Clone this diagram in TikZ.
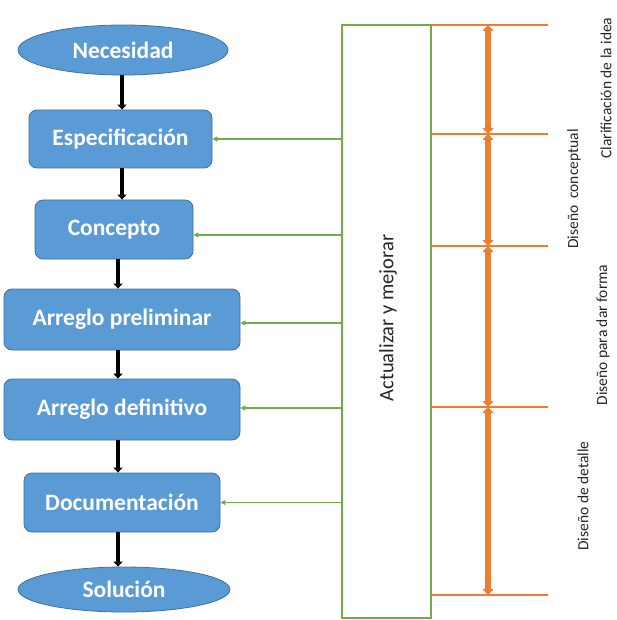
\documentclass[tikz,border=0pt]{standalone}
\usepackage{fontspec}
\setmainfont{Carlito}
\usetikzlibrary{arrows.meta,shapes.geometric,calc}
\definecolor{bfill}{HTML}{5B9BD5}
\definecolor{bdraw}{HTML}{41719C}
\definecolor{gr}{HTML}{70AD47}
\definecolor{orng}{HTML}{ED7D31}
\begin{document}
\begin{tikzpicture}[x=1pt,y=-1pt,
  stepbox/.style={draw=bdraw,line width=0.8pt,fill=bfill,rounded corners=8pt,
    font=\fontsize{23.5}{26}\selectfont\bfseries,text=white,inner sep=0pt},
  term/.style={ellipse,draw=bdraw,line width=0.8pt,fill=bfill,inner sep=0pt,
    font=\fontsize{23.5}{26}\selectfont\bfseries,text=white},
  blk/.style={line width=4.5pt,-{Triangle[width=9pt,length=5pt]}},
  garrow/.style={draw=gr,line width=1.6pt,-{Triangle[width=5pt,length=5pt]}},
  gbox/.style={draw=gr,line width=1.8pt,fill=white,inner sep=0pt},
  otick/.style={draw=orng,line width=1.8pt},
  oarrow/.style={draw=orng,line width=5.5pt,{Triangle[width=11pt,length=6pt]}-{Triangle[width=11pt,length=6pt]}},
  lbl/.style={rotate=90,font=\fontsize{15.5}{18}\selectfont,text=black!85,inner sep=0pt}
]
\useasboundingbox (0,0) rectangle (616,620);
\fill[white] (0,0) rectangle (616,620);

% flow nodes
\node[term,minimum width=210pt,minimum height=50pt] (nec) at (123,50) {Necesidad};
\node[stepbox,minimum width=183pt,minimum height=58pt] (esp) at (120.5,139) {Especificación};
\node[stepbox,minimum width=158pt,minimum height=59pt] (con) at (114,229.5) {Concepto};
\node[stepbox,minimum width=236pt,minimum height=61pt] (pre) at (122,319.5) {Arreglo preliminar};
\node[stepbox,minimum width=236pt,minimum height=61pt] (def) at (122,409.5) {Arreglo definitivo};
\node[stepbox,minimum width=196pt,minimum height=59pt] (doc) at (122,502.5) {Documentación};
\node[term,minimum width=212pt,minimum height=45pt] (sol) at (124,589.5) {Solución};

% black arrows
\coordinate (a1) at (122,0);
\coordinate (a2) at (118,0);
\draw[blk] (nec.south -| a1) -- (esp.north -| a1);
\draw[blk] (esp.south -| a1) -- (con.north -| a1);
\draw[blk] (con.south -| a2) -- (pre.north -| a2);
\draw[blk] (pre.south -| a2) -- (def.north -| a2);
\draw[blk] (def.south -| a2) -- (doc.north -| a2);
\draw[blk] (doc.south -| a2) -- (sol.north -| a2);

% green update box
\node[gbox,minimum width=89pt,minimum height=593pt] (upd) at (386.5,321.5) {};
\node[rotate=90,font=\fontsize{20.5}{24}\selectfont,text=black!85,inner sep=0pt] (updt) at (388,318) {Actualizar y mejorar};

\coordinate (g1) at (esp.east);
\coordinate (g2) at ([yshift=-5.5pt]con.east);
\coordinate (g3) at ([yshift=-3.5pt]pre.east);
\coordinate (g4) at ([yshift=1.5pt]def.east);
\coordinate (g5) at (doc.east);
\foreach \g in {g1,g2,g3,g4,g5}
  \draw[garrow] (upd.west |- \g) -- (\g);

% orange ticks and arrows
\coordinate (t1) at (548,25);
\coordinate (t2) at (548,134);
\coordinate (t3) at (548,246);
\coordinate (t4) at (548,407);
\coordinate (t5) at (548,595);
\foreach \t in {t1,t2,t3,t4,t5}
  \draw[otick] (upd.east |- \t) -- (\t);
\coordinate (v) at (488,0);
\draw[oarrow] (t1 -| v) -- (t2 -| v);
\draw[oarrow] (t2 -| v) -- (t3 -| v);
\draw[oarrow] (t3 -| v) -- (t4 -| v);
\draw[oarrow] (t4 -| v) -- (t5 -| v);

% labels
\node[lbl] (l1) at (606,88) {Clarificación de la idea};
\node[lbl] (l2) at (574,189) {Diseño\ \ conceptual};
\node[lbl] (l3) at (603,335) {Diseño para dar forma};
\node[lbl] (l4) at (583,496) {Diseño de detalle};
\end{tikzpicture}
\end{document}
